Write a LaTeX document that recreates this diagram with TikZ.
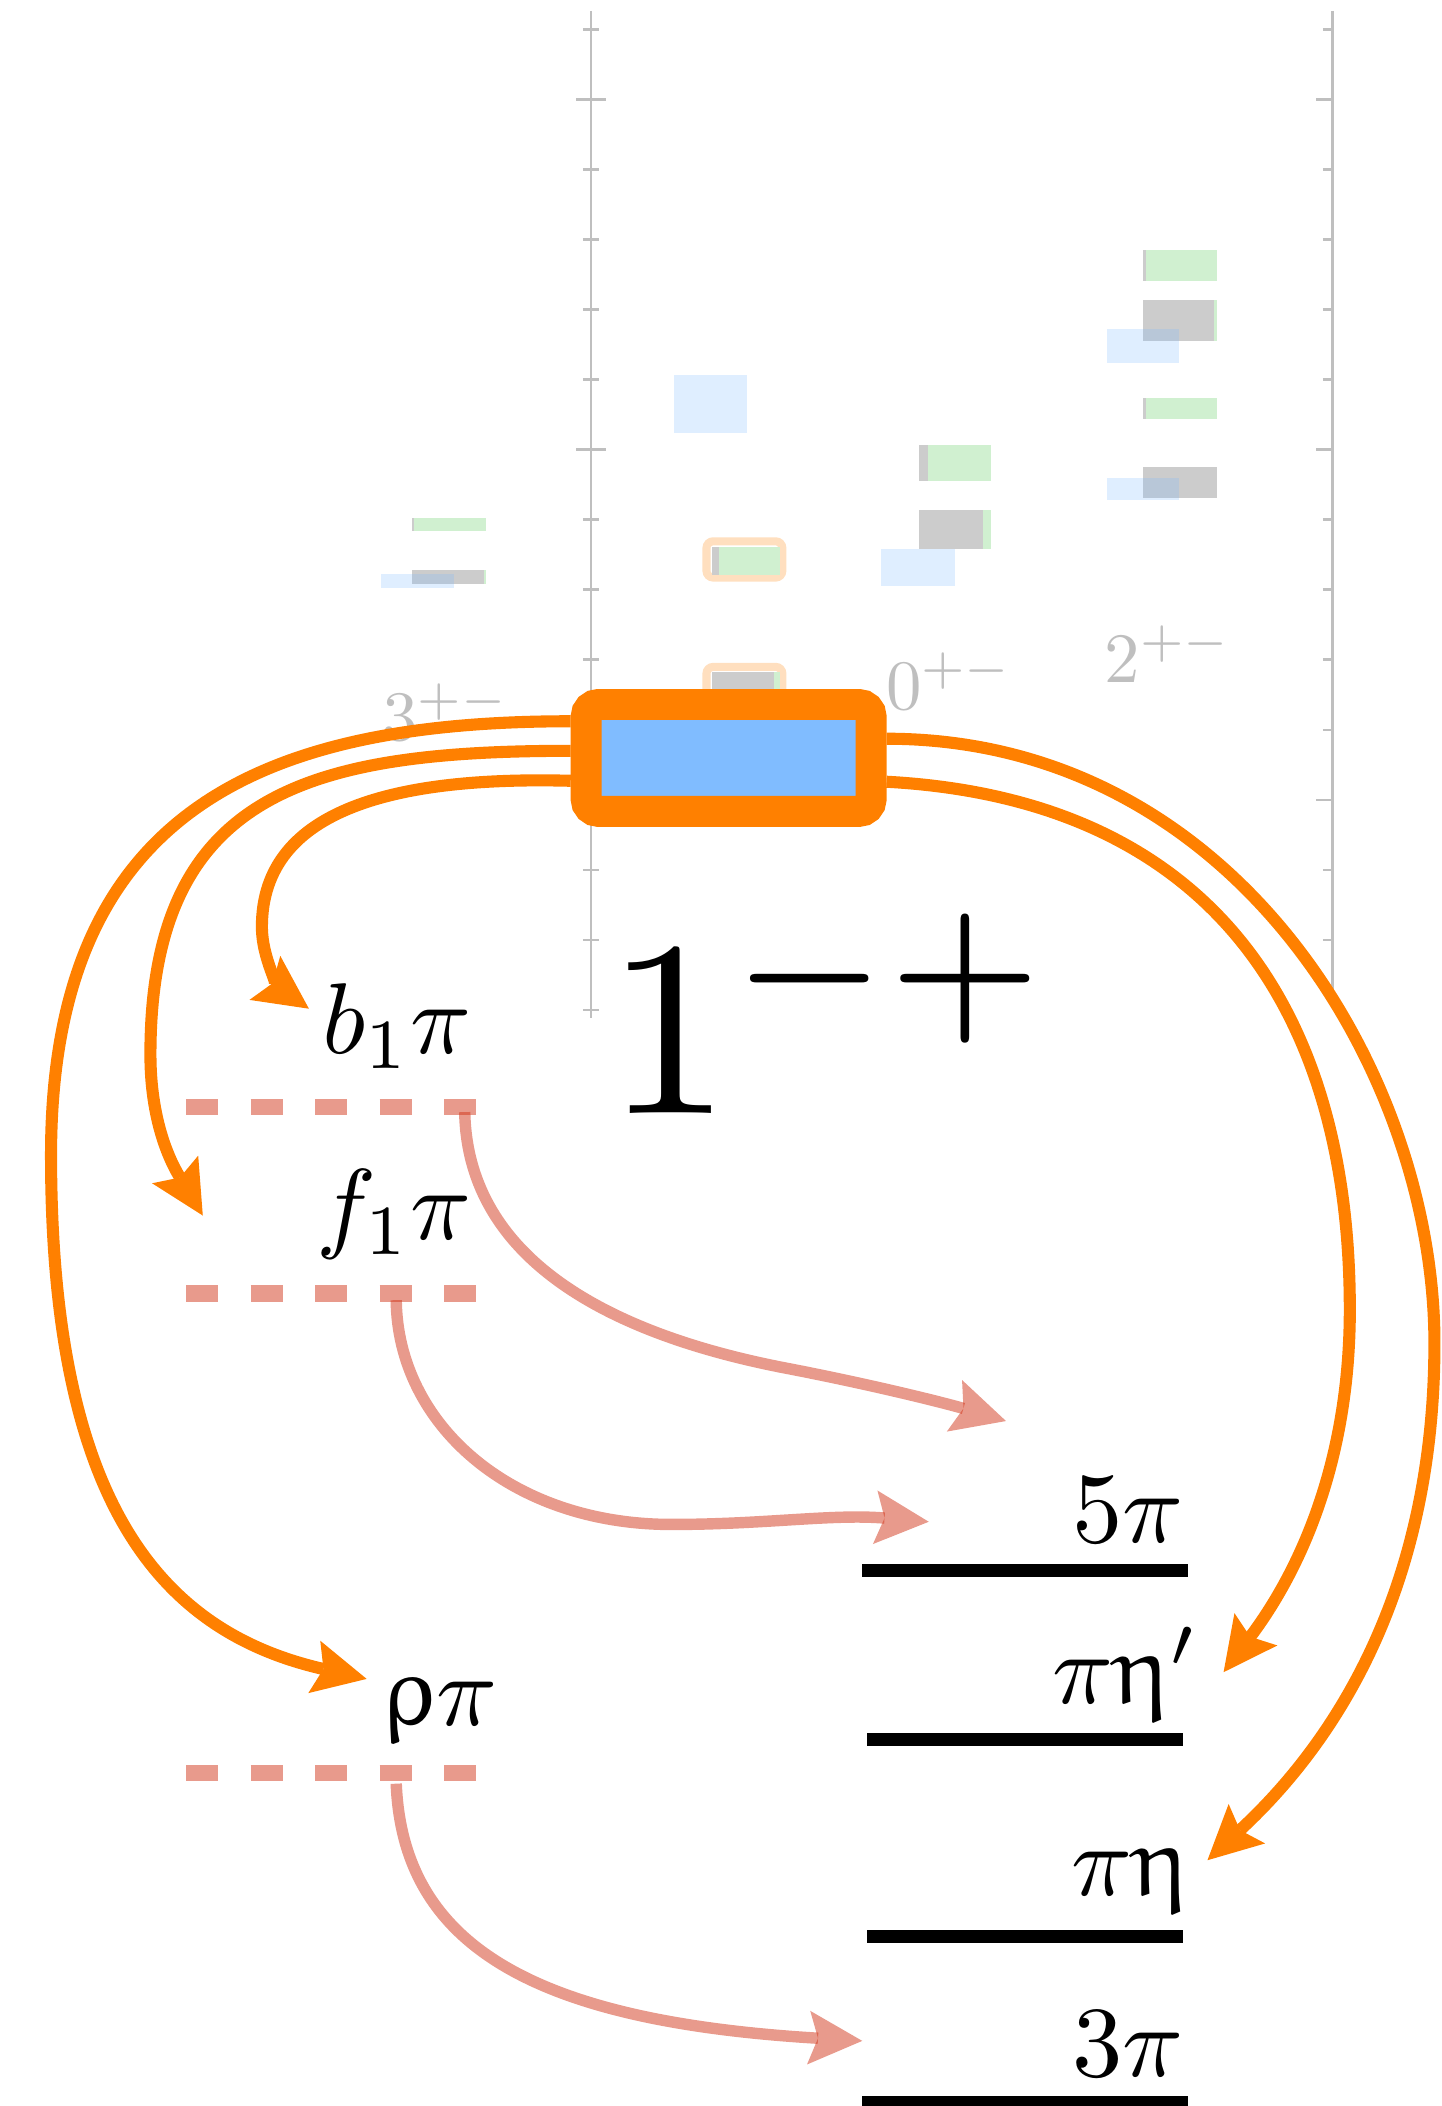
\documentclass[tikz,border=0pt]{standalone}
\usepackage{graphicx}
\usepackage{xcolor}
\usepackage{tikz}
\usetikzlibrary{arrows.meta, positioning}
\DeclareSymbolFont{eulergreek}{U}{eur}{m}{n}
\DeclareMathSymbol{\upeta}{\mathord}{eulergreek}{"11}
\DeclareMathSymbol{\uprho}{\mathord}{eulergreek}{"1A}
\newcommand{\chantext}[1]{\scalebox{2.13}{$#1$}}
\newcommand{\jpctext}[1]{\scalebox{1.5}{$#1$}}
\definecolor{HybOrange}{RGB}{255,128,0}
\definecolor{HybBlue}{RGB}{128,188,255}
\definecolor{LatGreen}{RGB}{208,240,208}
\definecolor{LatGray}{RGB}{204,204,204}
\definecolor{LatRing}{RGB}{255,223,191}
\definecolor{ChanRed}{RGB}{209,53,25}
\definecolor{AxisGray}{RGB}{191,191,191}

\begin{document}
\begin{tikzpicture}[x=0.01cm, y=-0.01cm, >={Stealth[length=0.4cm, width=0.4cm, inset=0.07cm, line width=0pt 0]}]
  \tikzstyle{axisline} = [draw=AxisGray, line width=0.02cm]
  \tikzstyle{latblue} = [fill=HybBlue, fill opacity=0.25]
  \tikzstyle{latring} = [draw=LatRing, line width=0.06cm, rounded corners=0.05cm]
  \tikzstyle{jpclabel} = [inner sep=0pt, text=AxisGray]
  \tikzstyle{hybrid} = [rectangle, draw=HybOrange, fill=HybBlue, line width=0.23cm, rounded corners=0.09cm, minimum width=2.12cm, minimum height=0.795cm, inner sep=0pt, outer sep=0.115cm]
  \tikzstyle{decay} = [inner sep=0pt]
  \tikzstyle{hyb} = [->, draw=HybOrange, line width=0.09cm]
  \tikzstyle{chan} = [->, draw=ChanRed, opacity=0.5, line width=0.085cm]
  \tikzstyle{isobar} = [draw=ChanRed, opacity=0.5, line width=0.12cm, dash pattern=on 0.24cm off 0.24cm]
  \tikzstyle{chanline} = [draw=black, line width=0.095cm]

  \useasboundingbox (0,0) rectangle (1073,1568);

  % Lattice levels
  \fill[LatGray] (307,386) rectangle (308.5,395);
  \fill[LatGreen] (308.5,386) rectangle (362,395);
  \fill[LatGray] (307,424) rectangle (360.5,435);
  \fill[LatGreen] (360.5,424) rectangle (362,435);
  \fill[latblue] (284,427) rectangle (338,438);

  \fill[latblue] (502,279) rectangle (556,322);
  \draw[latring] (526,403) rectangle (582.5,430);
  \fill[LatGray] (530,407) rectangle (535,428);
  \fill[LatGreen] (535,407) rectangle (581,428);
  \draw[latring] (526,496.5) rectangle (582.5,523.5);
  \fill[LatGray] (530,500) rectangle (576,521);
  \fill[LatGreen] (576,500) rectangle (581,521);

  \fill[LatGray] (684,331) rectangle (691,358);
  \fill[LatGreen] (691,331) rectangle (738,358);
  \fill[LatGray] (684,380) rectangle (732,409);
  \fill[LatGreen] (732,380) rectangle (738,409);
  \fill[latblue] (656,409) rectangle (711,436);

  \fill[LatGray] (851,186) rectangle (853,209);
  \fill[LatGreen] (853,186) rectangle (906,209);
  \fill[LatGray] (851,223) rectangle (904,254);
  \fill[LatGreen] (904,223) rectangle (906,254);
  \fill[latblue] (824,245) rectangle (878,270.5);
  \fill[LatGray] (851,296) rectangle (853,312);
  \fill[LatGreen] (853,296) rectangle (906,312);
  \fill[LatGray] (851,348) rectangle (906,371);
  \fill[latblue] (824,356) rectangle (878,372);

  % Axes
  \draw[axisline] (440,8) -- (440,758);
  \draw[axisline] (992,8) -- (992,745);
  \foreach \k in {0,...,14} {
    \pgfmathsetmacro{\ty}{22+52.14*\k}
    \pgfmathsetmacro{\tl}{mod(\k,5)==1 ? 11 : 6}
    \draw[axisline] (440-\tl,\ty) -- (440+\tl,\ty);
    \ifnum\k<14 \draw[axisline] (992-\tl-1,\ty) -- (992,\ty); \fi
  }

  % Quantum numbers
  \node (q3) [jpclabel, anchor=base west] at (284,551) {\jpctext{3^{+-}}};
  \node (q0) [jpclabel, anchor=base west] at (659,528) {\jpctext{0^{+-}}};
  \node (q2) [jpclabel, anchor=base west] at (822,508) {\jpctext{2^{+-}}};

  % Exotic state
  \node (jpc) [hybrid] at (542.5,564.3) {};
  \node (jpcname) [inner sep=0pt, anchor=base west] at (451,829) {\scalebox{5.3}{$1^{-+}$}};

  % Decay channels
  \node (b1pi) [decay, anchor=base east] at (352,784) {\chantext{b_1\pi}};
  \node (f1pi) [decay, anchor=base east] at (352,923) {\chantext{f_1\pi}};
  \node (rhopi) [decay, anchor=base west] at (283,1284.5) {\chantext{\uprho\pi}};
  \node (n5pi) [decay, anchor=base east] at (882,1148.5) {\chantext{5\pi}};
  \node (pietap) [decay, anchor=base east] at (893,1268) {\chantext{\pi\upeta'}};
  \node (pieta) [decay, anchor=base east] at (886,1411) {\chantext{\pi\upeta}};
  \node (n3pi) [decay, anchor=base east] at (882,1546) {\chantext{3\pi}};

  \draw[chanline] (642,1169) -- (884.6,1169);
  \draw[chanline] (645.6,1295) -- (880.7,1295);
  \draw[chanline] (645.6,1442) -- (880.7,1442);
  \draw[chanline] (642,1565) -- (884.6,1565);

  \draw[isobar] (138.5,824) -- (354.5,824);
  \draw[isobar] (138.5,963) -- (354.5,963);
  \draw[isobar] (138.5,1320) -- (354.5,1320);

  % Arrow ends
  \coordinate (b1pi-in) at (230,751);
  \coordinate (f1pi-in) at (151,905);
  \coordinate (rhopi-in) at (273,1250);
  \coordinate (pietap-in) at (911,1245);
  \coordinate (pieta-in) at (899,1385);
  \coordinate (b1pi-out) at (346,828);
  \coordinate (f1pi-out) at (295,968);
  \coordinate (rhopi-out) at (295,1328);
  \coordinate (b1pi-5pi) at (749,1058);
  \coordinate (f1pi-5pi) at (691.5,1133);
  \coordinate (rhopi-3pi) at (642,1519.5);

  % Connections
  \draw[hyb] ([yshift=-0.17cm]jpc.west) .. controls (300,578) and (195,600) .. (195,690) .. controls (195,715) and (210,737) .. (b1pi-in);
  \draw[hyb] ([yshift=0.053cm]jpc.west) .. controls (230,559) and (112,590) .. (112,785) .. controls (112,840) and (130,870) .. (f1pi-in);
  \draw[hyb] ([yshift=0.273cm]jpc.west) .. controls (200,537) and (38,600) .. (38,860) .. controls (38,1120) and (120,1215) .. (rhopi-in);
  \draw[hyb] ([yshift=0.143cm]jpc.east) .. controls (920,550) and (1068,800) .. (1068,1000) .. controls (1068,1200) and (980,1310) .. (pieta-in);
  \draw[hyb] ([yshift=-0.177cm]jpc.east) .. controls (900,595) and (1005,750) .. (1005,975) .. controls (1005,1100) and (960,1180) .. (pietap-in);

  \draw[chan] (b1pi-out) .. controls (348,930) and (440,990) .. (582,1018) .. controls (650,1031) and (705,1045) .. (b1pi-5pi);
  \draw[chan] (f1pi-out) .. controls (296,1060) and (380,1135) .. (500,1135) .. controls (570,1135) and (620,1127) .. (f1pi-5pi);
  \draw[chan] (rhopi-out) .. controls (300,1450) and (400,1505) .. (rhopi-3pi);
\end{tikzpicture}
\end{document}
